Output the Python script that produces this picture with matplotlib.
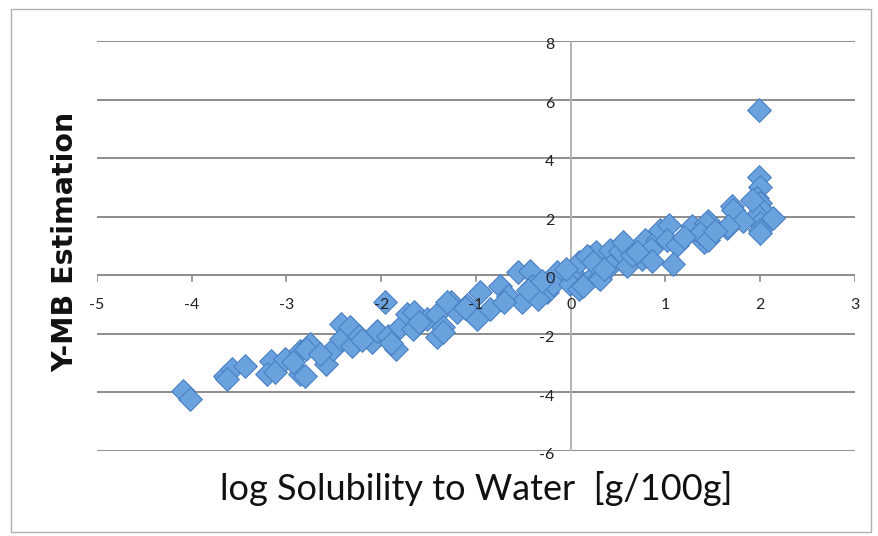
import matplotlib

matplotlib.use("Agg")
import matplotlib.pyplot as plt
from matplotlib.patches import Rectangle

# log solubility to water [g/100g] vs Y-MB estimation
log_solubility = [
    -4.09, -4.02,
    -3.65, -3.58, -3.63, -3.44,
    -3.16, -3.21, -3.12, -3.02, -2.86, -2.75, -2.86, -2.93,
    -2.79, -2.81, -2.58, -2.51, -2.42, -2.42, -2.33, -2.31, -2.23, -2.10,
    -2.04, -1.93, -1.84, -1.80, -1.73, -1.65, -1.67, -1.52, -1.41, -1.41,
    -1.35, -1.26, -1.20, -1.96, -1.90,
    -1.31, -1.35, -1.10, -1.05, -0.96, -0.99, -0.85, -0.75, -0.66, -0.56,
    -0.43, -0.51, -0.41, -0.25, -0.15, -0.19, -0.35, -0.45, 0.01, -0.01,
    0.09, 0.09, 0.20, 0.27, 0.23, 0.30,
    0.17, 0.13, 0.23, 0.31, 0.41, 0.41, 0.52, 0.55, 0.59, 0.75, 0.78, 0.91,
    0.94, 1.04, 1.02, 1.12, 1.08, 1.28, 1.36, 1.41, 1.45, 1.65, 1.70,
    1.99, 1.99, 2.00, 1.97, 2.00, 2.02, 1.97, 2.00, 2.00, 2.13, 1.91, 1.71,
    1.82, 1.66, 1.43, 1.36, 1.45, 0.65, 0.85, -0.05, 2.00,
    -2.65, -2.20, -1.60, -1.12, -0.70, -0.30, 0.35, 0.70, 0.86, 1.20, 1.52,
]
ymb_estimate = [
    -3.95, -4.22,
    -3.43, -3.20, -3.54, -3.10,
    -2.93, -3.37, -3.30, -2.86, -2.58, -2.35, -3.37, -2.96,
    -2.52, -3.43, -3.03, -2.52, -1.67, -2.18, -1.77, -2.41, -2.07, -2.28,
    -1.90, -2.07, -2.52, -1.77, -1.33, -1.26, -1.84, -1.50, -1.33, -2.11,
    -1.77, -0.92, -1.26, -0.92, -2.30,
    -0.92, -1.94, -1.00, -1.30, -0.58, -1.50, -1.16, -0.37, -0.71, 0.10,
    0.14, -0.92, -0.37, -0.58, 0.10, -0.31, -0.80, -0.50, 0.10, -0.31,
    -0.48, 0.44, 0.61, 0.78, -0.03, -0.10,
    0.65, -0.37, 0.44, -0.14, 0.88, 0.31, 0.82, 1.12, 0.31, 0.54, 1.22, 1.22,
    1.56, 1.73, 1.22, 1.05, 0.37, 1.67, 1.46, 1.12, 1.84, 1.63, 2.35,
    5.65, 3.37, 3.03, 2.65, 2.48, 2.24, 2.07, 1.80, 1.56, 1.97, 2.58, 2.24,
    1.84, 1.67, 1.80, 1.46, 1.22, 0.70, 0.90, 0.20, 1.45,
    -2.70, -2.20, -1.60, -1.10, -0.90, -0.20, 0.20, 0.80, 0.50, 1.30, 1.50,
]
x_ticks = [-5, -4, -3, -2, -1, 0, 1, 2, 3]
y_ticks = [-6, -4, -2, 0, 2, 4, 6, 8]

W, H = 879, 536
fig = plt.figure(figsize=(W / 100, H / 100), dpi=100)
ax = fig.add_axes([97 / W, 1 - 451 / H, (855 - 97) / W, (451 - 41) / H])

grid_color = "#8c8c8c"
for yv in y_ticks:
    ax.axhline(yv, color=grid_color, lw=1.4, zorder=1)
ax.axvline(0, color="#b4b4b4", lw=1.4, zorder=1)

ax.scatter(log_solubility, ymb_estimate, marker="D", s=145,
           facecolor="#6aa2de", edgecolor="#4a80c4", linewidth=0.8, zorder=3)

ax.set_xlim(-5, 3)
ax.set_ylim(-6, 8)
for side in ["top", "right", "left", "bottom"]:
    ax.spines[side].set_visible(False)
ax.set_xticks([])
ax.set_yticks([])

# tick marks under the y=0 line and labels placed like Excel's crossing axes
for xv in x_ticks:
    ax.plot([xv, xv], [0, -0.2], color=grid_color, lw=1.2, zorder=1)
    ax.text(xv, -1.0, f"{xv}", ha="center", va="center", fontsize=11.5,
            family="Lato", color="#222222", zorder=4)
for yv in y_ticks:
    ax.text(-0.17, yv - 0.14, f"{yv}", ha="right", va="center", fontsize=11.5,
            family="Lato", color="#222222", zorder=4)

fig.text(0.074, 0.548, "Y-MB Estimation", rotation=90, ha="center", va="center",
         fontsize=20.5, fontweight="bold", family="DejaVu Sans", color="#111111")
fig.text(476 / W, 1 - 488 / H, "log Solubility to Water  [g/100g]", ha="center",
         va="center", fontsize=26, family="Lato", color="#111111")

fig.patches.append(Rectangle((11 / W, 1 - 532 / H), (871 - 11) / W, (532 - 9) / H,
                             transform=fig.transFigure, fill=False,
                             edgecolor="#b0b0b0", lw=1.0))

fig.savefig("out.png", dpi=100)
